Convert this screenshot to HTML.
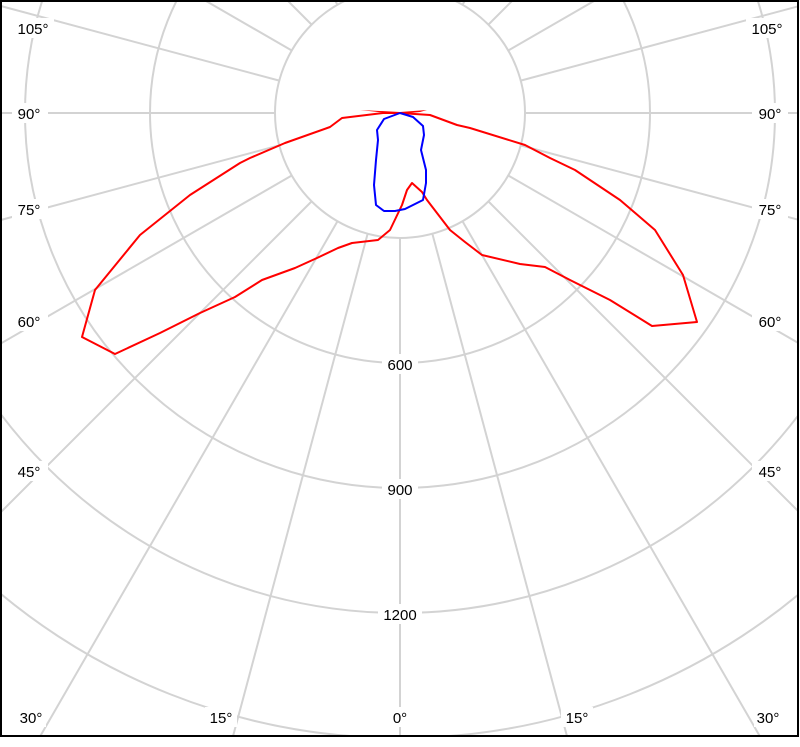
<!DOCTYPE html>
<html><head><style>
html,body{margin:0;padding:0;background:#fff;width:800px;height:747px;overflow:hidden;}
svg{display:block;}
text{font-family:"Liberation Sans",sans-serif;font-size:15px;fill:#000;}
</style></head><body>
<svg width="800" height="747" viewBox="0 0 800 747" xmlns="http://www.w3.org/2000/svg" overflow="hidden">
<defs><clipPath id="c"><rect x="1" y="1" width="797" height="735"/></clipPath></defs>
<rect width="800" height="747" fill="#fff"/>
<g clip-path="url(#c)" stroke="#d3d3d3" stroke-width="2" fill="none">
<circle cx="400" cy="113" r="125"/>
<circle cx="400" cy="113" r="250"/>
<circle cx="400" cy="113" r="375"/>
<circle cx="400" cy="113" r="500"/>
<circle cx="400" cy="113" r="625"/>
<circle cx="400" cy="113" r="750"/>
<circle cx="400" cy="113" r="875"/>
<g id="rays">
<line x1="400" y1="238" x2="400" y2="1000"/>
</g>
<use href="#rays" transform="rotate(15 400 113)"/>
<use href="#rays" transform="rotate(30 400 113)"/>
<use href="#rays" transform="rotate(45 400 113)"/>
<use href="#rays" transform="rotate(60 400 113)"/>
<use href="#rays" transform="rotate(75 400 113)"/>
<use href="#rays" transform="rotate(90 400 113)"/>
<use href="#rays" transform="rotate(105 400 113)"/>
<use href="#rays" transform="rotate(120 400 113)"/>
<use href="#rays" transform="rotate(135 400 113)"/>
<use href="#rays" transform="rotate(150 400 113)"/>
<use href="#rays" transform="rotate(165 400 113)"/>
<use href="#rays" transform="rotate(180 400 113)"/>
<use href="#rays" transform="rotate(-15 400 113)"/>
<use href="#rays" transform="rotate(-30 400 113)"/>
<use href="#rays" transform="rotate(-45 400 113)"/>
<use href="#rays" transform="rotate(-60 400 113)"/>
<use href="#rays" transform="rotate(-75 400 113)"/>
<use href="#rays" transform="rotate(-90 400 113)"/>
<use href="#rays" transform="rotate(-105 400 113)"/>
<use href="#rays" transform="rotate(-120 400 113)"/>
<use href="#rays" transform="rotate(-135 400 113)"/>
<use href="#rays" transform="rotate(-150 400 113)"/>
<use href="#rays" transform="rotate(-165 400 113)"/>
</g>
<g font-size="15">
<rect x="382" y="354" width="36" height="20" fill="#fff"/>
<text x="400" y="370" text-anchor="middle">600</text>
<rect x="382" y="479" width="36" height="20" fill="#fff"/>
<text x="400" y="495" text-anchor="middle">900</text>
<rect x="378" y="604" width="44" height="20" fill="#fff"/>
<text x="400" y="620" text-anchor="middle">1200</text>
<g text-anchor="middle">
<rect x="12" y="18" width="42" height="20" fill="#fff"/><text x="33" y="34">105°</text>
<rect x="746" y="18" width="42" height="20" fill="#fff"/><text x="767" y="34">105°</text>
<rect x="12" y="103" width="36" height="20" fill="#fff"/><text x="29" y="119">90°</text>
<rect x="752" y="103" width="36" height="20" fill="#fff"/><text x="770" y="119">90°</text>
<rect x="12" y="199" width="36" height="20" fill="#fff"/><text x="29" y="215">75°</text>
<rect x="752" y="199" width="36" height="20" fill="#fff"/><text x="770" y="215">75°</text>
<rect x="12" y="311" width="36" height="20" fill="#fff"/><text x="29" y="327">60°</text>
<rect x="752" y="311" width="36" height="20" fill="#fff"/><text x="770" y="327">60°</text>
<rect x="12" y="461" width="36" height="20" fill="#fff"/><text x="29" y="477">45°</text>
<rect x="752" y="461" width="36" height="20" fill="#fff"/><text x="770" y="477">45°</text>
<rect x="14" y="707" width="32" height="20" fill="#fff"/><text x="31" y="723">30°</text>
<rect x="754" y="707" width="32" height="20" fill="#fff"/><text x="768" y="723">30°</text>
<rect x="205" y="707" width="32" height="20" fill="#fff"/><text x="221" y="723">15°</text>
<rect x="561" y="707" width="32" height="20" fill="#fff"/><text x="577" y="723">15°</text>
<rect x="388" y="707" width="24" height="20" fill="#fff"/><text x="400" y="723">0°</text>
</g>
</g>
<polyline fill="none" stroke="#ff0000" stroke-width="2" stroke-linejoin="round" points="400,113 383,113 342,118 330,127 285,143 250,158 240,163 190,195 140,235 95,290 82,337 115,354 160,333 200,313 235,297 262,280 295,268 317,258 338,248 352,243 378,240 390,230 402,205 407,190 412,183 422,192 427,200 450,230 465,242 482,255 520,264 545,267 570,280 610,300 652,326 697,322 683,275 655,230 620,200 575,170 550,158 525,145 470,128 457,125 430,115 400,113"/>
<polygon fill="#ff0000" points="360,110 400,112 400,114 378,112"/>
<polygon fill="#ff0000" points="427,110 400,112 400,114 420,112"/>
<polyline fill="none" stroke="#0000ff" stroke-width="2" stroke-linejoin="round" points="400,113 413,117 423,126 424,135 421,150 426,170 426,183 423,200 405,209 395,211 384,211 376,205 374,185 376,160 378,140 377,130 384,119 400,113"/>
<rect x="1" y="1" width="797" height="735" fill="none" stroke="#000" stroke-width="2"/>
</svg>
</body></html>
